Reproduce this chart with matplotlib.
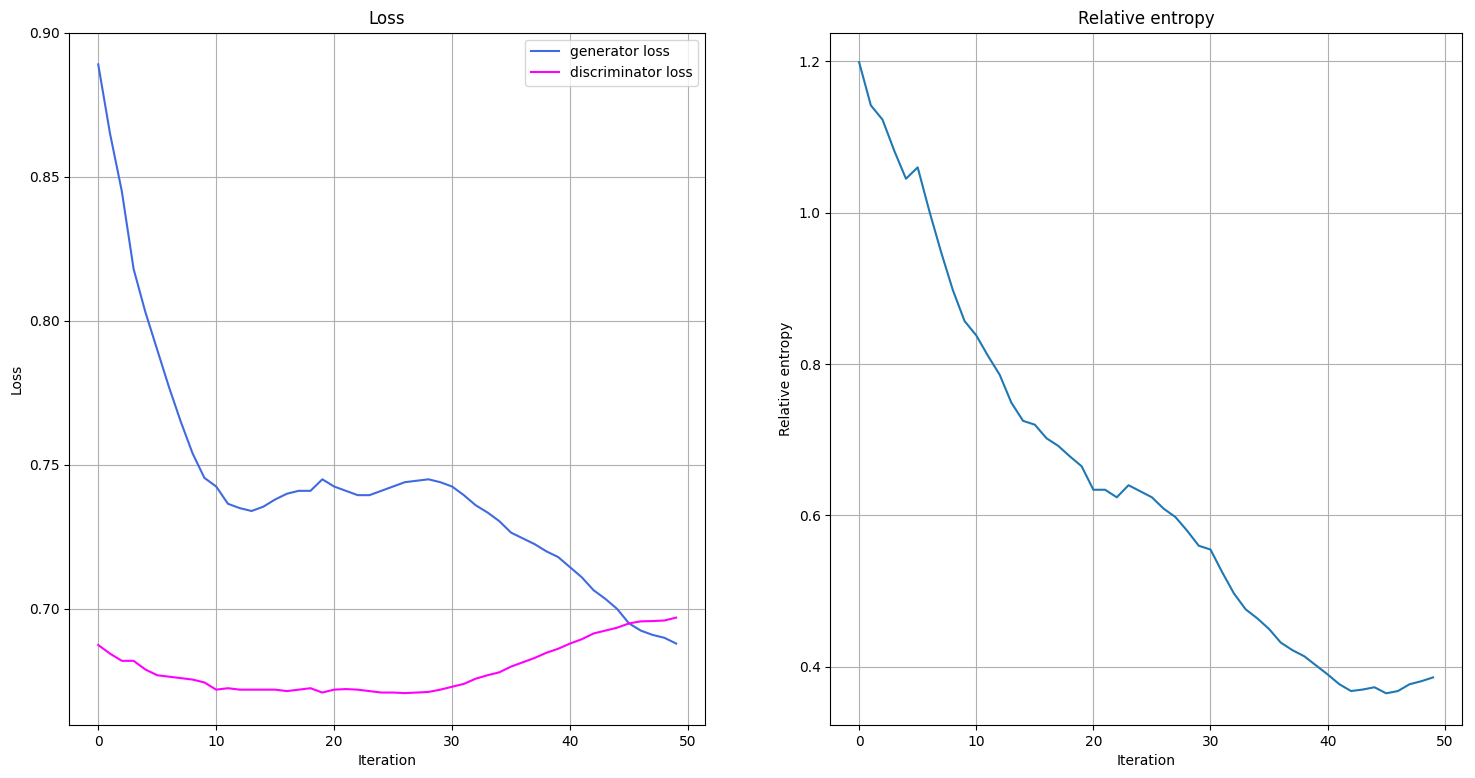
import matplotlib
matplotlib.use("Agg")
import matplotlib.pyplot as plt

iterations = list(range(50))

gen_loss = [0.889, 0.865, 0.845, 0.818, 0.803, 0.790, 0.777, 0.765, 0.754, 0.7455,
            0.7425, 0.7365, 0.735, 0.734, 0.7355, 0.738, 0.740, 0.741, 0.741, 0.745,
            0.7425, 0.741, 0.7395, 0.7395, 0.741, 0.7425, 0.744, 0.7445, 0.745, 0.744,
            0.7425, 0.7395, 0.736, 0.7335, 0.7305, 0.7265, 0.7245, 0.7225, 0.720, 0.718,
            0.7145, 0.711, 0.7065, 0.7035, 0.700, 0.695, 0.6925, 0.691, 0.690, 0.688]

disc_loss = [0.6875, 0.6845, 0.682, 0.682, 0.679, 0.677, 0.6765, 0.676, 0.6755, 0.6745,
             0.672, 0.6725, 0.672, 0.672, 0.672, 0.672, 0.6715, 0.672, 0.6725, 0.671,
             0.672, 0.6722, 0.672, 0.6715, 0.671, 0.671, 0.6708, 0.671, 0.6712, 0.672,
             0.673, 0.674, 0.6758, 0.677, 0.678, 0.680, 0.6815, 0.683, 0.6848, 0.6862,
             0.688, 0.6895, 0.6915, 0.6925, 0.6935, 0.695, 0.6957, 0.6958, 0.696, 0.697]

rel_entropy = [1.199, 1.142, 1.123, 1.082, 1.045, 1.060, 1.002, 0.948, 0.898, 0.857,
               0.838, 0.811, 0.786, 0.749, 0.725, 0.720, 0.702, 0.692, 0.678, 0.665,
               0.634, 0.634, 0.624, 0.640, 0.632, 0.624, 0.609, 0.598, 0.580, 0.560,
               0.555, 0.525, 0.497, 0.476, 0.464, 0.450, 0.432, 0.422, 0.414, 0.402,
               0.390, 0.377, 0.368, 0.370, 0.373, 0.365, 0.368, 0.377, 0.381, 0.386]

fig = plt.figure(figsize=(14.75, 7.78), dpi=100)

ax1 = fig.add_axes([0.047, 0.068, 0.431, 0.89])
ax1.plot(iterations, gen_loss, color="royalblue", label="generator loss")
ax1.plot(iterations, disc_loss, color="magenta", label="discriminator loss")
ax1.set_title("Loss")
ax1.set_xlabel("Iteration")
ax1.set_ylabel("Loss")
ax1.set_ylim(0.6597, 0.90)
ax1.set_yticks([0.70, 0.75, 0.80, 0.85, 0.90])
ax1.legend(loc="upper right")
ax1.grid()

ax2 = fig.add_axes([0.563, 0.068, 0.428, 0.89])
ax2.plot(iterations, rel_entropy)
ax2.set_title("Relative entropy")
ax2.set_xlabel("Iteration")
ax2.set_ylabel("Relative entropy")
ax2.set_ylim(0.323, 1.238)
ax2.grid()

fig.savefig("out.png")
